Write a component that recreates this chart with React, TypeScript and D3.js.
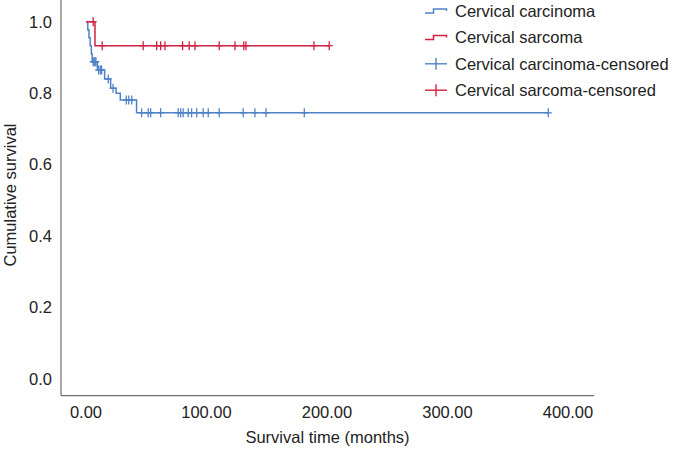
import React from "react";
import * as d3 from "d3";

const xTicks = [0, 100, 200, 300, 400];
const yTicks = [0, 0.2, 0.4, 0.6, 0.8, 1.0];

const carcinomaTimes = [0, 1.5, 2.5, 3.5, 4.5, 5.2, 9.5, 15.5, 20.5, 25, 28.5, 42];
const carcinomaSurv = [1, 0.978, 0.955, 0.933, 0.91, 0.888, 0.865, 0.84, 0.814, 0.8, 0.781, 0.745];
const carcinomaCensored = [6, 6.8, 7.6, 8.3, 10.5, 12, 13, 18.5, 22.5, 33.5, 35.5, 38, 46.2, 51.7, 53.7, 62, 76.6, 78.6, 80.7, 84.9, 87.7, 91.9, 97.3, 101.5, 110.6, 130.5, 140.2, 149.4, 181.2, 383.7];

const sarcomaTimes = [0, 7.5];
const sarcomaSurv = [1, 0.933];
const sarcomaCensored = [6, 13.5, 47.5, 58.7, 62, 65.6, 80.2, 85.7, 90.5, 110.6, 123.7, 131, 132.8, 189.2, 201.9];

const legendLabels = ["Cervical carcinoma", "Cervical sarcoma", "Cervical carcinoma-censored", "Cervical sarcoma-censored"];

const BLUE = "#4f82c6";
const RED = "#d3213f";
const FONT = "'Liberation Sans', Arial, sans-serif";

function survAt(times: number[], surv: number[], t: number) {
  let v = surv[0];
  for (let i = 0; i < times.length; i++) if (times[i] <= t) v = surv[i];
  return v;
}

export default function App() {
  const W = 677, H = 450;
  const x = d3.scaleLinear().domain([-20.7, 421.6]).range([61, 594]);
  const y = d3.scaleLinear().domain([-0.047, 1.061]).range([395.7, 0]);

  const line = d3
    .line<[number, number]>()
    .x((d) => x(d[0]))
    .y((d) => y(d[1]))
    .curve(d3.curveStepAfter);

  const series = [
    { times: carcinomaTimes, surv: carcinomaSurv, cens: carcinomaCensored, color: BLUE },
    { times: sarcomaTimes, surv: sarcomaSurv, cens: sarcomaCensored, color: RED },
  ];

  return (
    <svg width={W} height={H} style={{ position: "absolute", left: 0, top: 0, background: "#fff" }} fontFamily={FONT}>
      <line x1={x.range()[0]} x2={x.range()[0]} y1={y.range()[1]} y2={y.range()[0]} stroke="#6e6e6e" strokeWidth={1.2} />
      <line x1={x.range()[0]} x2={x.range()[1]} y1={y.range()[0]} y2={y.range()[0]} stroke="#6e6e6e" strokeWidth={1.2} />
      {yTicks.map((t) => (
        <text key={t} x={52} y={y(t)} dy="0.35em" textAnchor="end" fontSize={16.5} fill="#222">
          {t.toFixed(1)}
        </text>
      ))}
      {xTicks.map((t) => (
        <text key={t} x={x(t)} y={418} textAnchor="middle" fontSize={16.5} fill="#222">
          {t.toFixed(2)}
        </text>
      ))}
      <text x={(x.range()[0] + x.range()[1]) / 2} y={443} textAnchor="middle" fontSize={16.5} fill="#222">
        Survival time (months)
      </text>
      <text transform={`translate(16, 195) rotate(-90)`} textAnchor="middle" fontSize={16.5} fill="#222">
        Cumulative survival
      </text>

      {series.map((s, i) => {
        const last = s.cens.length ? Math.max(d3.max(s.cens) as number, s.times[s.times.length - 1]) : s.times[s.times.length - 1];
        const pts: [number, number][] = s.times.map((t, j) => [t, s.surv[j]] as [number, number]);
        pts.push([last, s.surv[s.surv.length - 1]]);
        return (
          <g key={i}>
            <path d={line(pts) || ""} fill="none" stroke={s.color} strokeWidth={1.5} />
            {s.cens.map((c, k) => {
              const cx = x(c), cy = y(survAt(s.times, s.surv, c));
              return (
                <g key={k} stroke={s.color} strokeWidth={1.3}>
                  <line x1={cx - 3.5} x2={cx + 3.5} y1={cy} y2={cy} />
                  <line x1={cx} x2={cx} y1={cy - 4.5} y2={cy + 4.5} />
                </g>
              );
            })}
          </g>
        );
      })}

      {legendLabels.map((lab, i) => {
        const ly = 11 + i * 26.4;
        const color = i % 2 === 0 ? BLUE : RED;
        return (
          <g key={lab}>
            {i < 2 ? (
              <path d={`M425,${ly + 2} H433.5 V${ly - 2} H446.5 V${ly}`} fill="none" stroke={color} strokeWidth={1.5} />
            ) : (
              <g stroke={color} strokeWidth={1.4}>
                <line x1={425} x2={447} y1={ly} y2={ly} />
                <line x1={436} x2={436} y1={ly - 6} y2={ly + 6} />
              </g>
            )}
            <text x={455} y={ly} dy="0.35em" fontSize={16.5} fill="#222">
              {lab}
            </text>
          </g>
        );
      })}
    </svg>
  );
}
